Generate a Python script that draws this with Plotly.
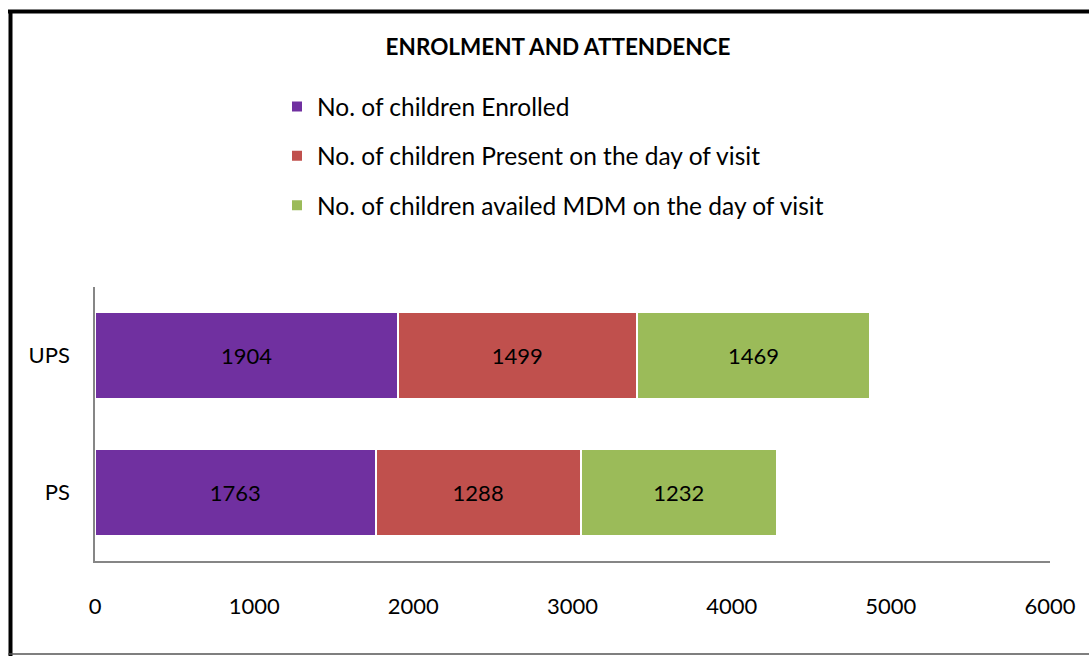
"""Enrolment and attendance: stacked horizontal bars for UPS and PS"""
import plotly.graph_objects as go

# colours (Excel 2007 palette)
COLOR_ENROLLED = "#7030A0"
COLOR_PRESENT = "#C0504D"
COLOR_MDM = "#9BBB59"
COLOR_AXIS = "#868686"
COLOR_TEXT = "#000000"

W, H = 1089, 656
M_L, M_R, M_T, M_B = 95, 39, 287, 95

schools = ["PS", "UPS"]
enrolled = [1763, 1904]
present = [1288, 1499]
availed_mdm = [1232, 1469]

series = [
    ("No. of children Enrolled", enrolled, COLOR_ENROLLED),
    ("No. of children Present on the day of visit", present, COLOR_PRESENT),
    ("No. of children availed MDM on the day of visit", availed_mdm, COLOR_MDM),
]

fig = go.Figure()
for i, (name, vals, color) in enumerate(series):
    fig.add_trace(
        go.Bar(
            y=schools,
            x=vals,
            name=name,
            orientation="h",
            marker=dict(color=color, line=dict(color="white", width=2)),
            text=vals,
            textposition="inside",
            insidetextanchor="middle",
            textfont=dict(size=22, color=COLOR_TEXT),
            legendgroup=f"g{i}",
            hoverinfo="x+name",
        )
    )

pw = W - M_L - M_R
ph = H - M_T - M_B


def px_x(p):
    return (p - M_L) / pw


def px_y(p):
    return (H - M_B - p) / ph


# outer frame: thick black top/left, thin grey bottom
shapes = [
    dict(type="line", xref="paper", yref="paper", x0=px_x(8), x1=px_x(W + 5), y0=px_y(11.5), y1=px_y(11.5),
         line=dict(color="black", width=4)),
    dict(type="line", xref="paper", yref="paper", x0=px_x(10.5), x1=px_x(10.5), y0=px_y(10), y1=px_y(656),
         line=dict(color="black", width=4)),
    dict(type="line", xref="paper", yref="paper", x0=px_x(8), x1=px_x(W + 5), y0=px_y(654), y1=px_y(654),
         line=dict(color="#555555", width=1.5)),
]

fig.update_layout(
    width=W,
    height=H,
    barmode="stack",
    bargap=0.365,
    margin=dict(l=M_L, r=M_R, t=M_T, b=M_B, autoexpand=False),
    plot_bgcolor="white",
    paper_bgcolor="white",
    font=dict(family="Lato, Calibri, sans-serif", color=COLOR_TEXT, size=22),
    title=dict(
        text="<b>ENROLMENT AND ATTENDENCE</b>",
        x=px_x(558), xref="paper", xanchor="center",
        y=1 - 47 / H, yanchor="middle",
        font=dict(size=22.5, color=COLOR_TEXT),
    ),
    legend=dict(
        x=px_x(277), y=px_y(84), xanchor="left", yanchor="top",
        orientation="v", tracegroupgap=14.5,
        font=dict(size=24.5), itemwidth=30, bgcolor="rgba(0,0,0,0)",
    ),
    shapes=shapes,
    hovermode="closest",
)

fig.update_xaxes(
    range=[0, 6000], dtick=1000, showgrid=False, zeroline=False,
    showline=True, linecolor=COLOR_AXIS, linewidth=1.5,
    ticks="outside", ticklen=25, tickcolor="rgba(0,0,0,0)",
    tickfont=dict(size=22),
)
fig.update_yaxes(
    showgrid=False, zeroline=False, showline=True, linecolor=COLOR_AXIS, linewidth=1.5,
    ticks="outside", ticklen=19, tickcolor="rgba(0,0,0,0)",
    tickfont=dict(size=22),
)

# the page body has a default 8px margin; drop it so the figure fills the window
fig.write_html(
    "out.html",
    config={"displayModeBar": False},
    post_script="document.body.style.margin='0';",
)
